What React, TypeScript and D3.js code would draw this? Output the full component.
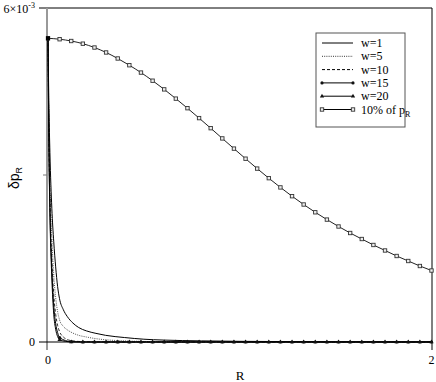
import React from 'react';
import * as d3 from 'd3';

// ---- data ----
const xDomain = [0, 2];
const yDomain = [0, 6e-3];

// fine R grid for the smooth decay curves
const fineR = [0, 0.005, 0.01, 0.02, 0.03, 0.04, 0.05, 0.06, 0.08, 0.1, 0.13, 0.16, 0.2, 0.25, 0.3, 0.4, 0.5, 0.6, 0.8, 1.0, 1.5, 2.0];
const w1 = [5.45, 4.2, 3.4, 2.4, 1.8, 1.35, 1.0, 0.78, 0.58, 0.46, 0.34, 0.26, 0.2, 0.155, 0.12, 0.08, 0.05, 0.035, 0.02, 0.012, 0.005, 0.002];
const w5 = [5.45, 3.8, 2.9, 1.9, 1.2, 0.8, 0.55, 0.4, 0.28, 0.22, 0.16, 0.12, 0.09, 0.06, 0.04, 0.02, 0.01, 0.005, 0.002, 0.001, 0, 0];
const w10 = [5.45, 3.6, 2.6, 1.5, 0.85, 0.5, 0.3, 0.19, 0.09, 0.045, 0.02, 0.01, 0.005, 0.002, 0.001, 0, 0, 0, 0, 0, 0, 0];

// coarse R grid (marker positions)
const markR = [0, 0.0606, 0.1212, 0.1818, 0.2424, 0.3030, 0.3636, 0.4242, 0.4848, 0.5455, 0.6061, 0.6667, 0.7273, 0.7879, 0.8485, 0.9091, 0.9697, 1.0303, 1.0909, 1.1515, 1.2121, 1.2727, 1.3333, 1.3939, 1.4545, 1.5152, 1.5758, 1.6364, 1.6970, 1.7576, 1.8182, 1.8788, 1.9394, 2.0];
// extra unmarked points near R=0 for w=15 and w=20
const extraR = [0.005, 0.01, 0.02, 0.03, 0.04, 0.05];
const w15Extra = [3.5, 2.4, 1.3, 0.65, 0.33, 0.17];
const w20Extra = [3.4, 2.3, 1.15, 0.5, 0.23, 0.1];
const w15 = [5.45, 0.08, 0.005, 0, 0, 0, 0, 0, 0, 0, 0, 0, 0, 0, 0, 0, 0, 0, 0, 0, 0, 0, 0, 0, 0, 0, 0, 0, 0, 0, 0, 0, 0, 0];
const w20 = [5.45, 0.04, 0.002, 0, 0, 0, 0, 0, 0, 0, 0, 0, 0, 0, 0, 0, 0, 0, 0, 0, 0, 0, 0, 0, 0, 0, 0, 0, 0, 0, 0, 0, 0, 0];
const pR10 = [5.456, 5.439, 5.407, 5.359, 5.29, 5.201, 5.093, 4.972, 4.84, 4.694, 4.538, 4.372, 4.2, 4.022, 3.841, 3.657, 3.474, 3.293, 3.115, 2.943, 2.777, 2.619, 2.47, 2.33, 2.199, 2.075, 1.958, 1.85, 1.743, 1.644, 1.545, 1.455, 1.365, 1.284];

const legendLabels = ['w=1', 'w=5', 'w=10', 'w=15', 'w=20', '10% of p'];

const W = 436, H = 382;
const serif = "Liberation Serif, Times New Roman, serif";
const sans = "Liberation Sans, Arial, sans-serif";

type P = [number, number];

export default function App() {
  const x = d3.scaleLinear().domain(xDomain).range([48, 431.5]);
  const y = d3.scaleLinear().domain(yDomain).range([342, 8]);
  const line = d3.line<P>().x(d => x(d[0])).y(d => y(d[1] * 1e-3)).curve(d3.curveMonotoneX);

  const fine = (vals: number[]): P[] => fineR.map((r, i) => [r, vals[i]]);
  const marked = (vals: number[]): P[] => markR.map((r, i) => [r, vals[i]]);
  const merged = (vals: number[], extra: number[]): P[] =>
    [...marked(vals), ...extraR.map((r, i) => [r, extra[i]] as P)].sort((a, b) => a[0] - b[0]);

  const tri = d3.symbol().type(d3.symbolTriangle).size(8)() as string;

  const lg = { x0: 322, x1: 353, tx: 361, y0: 43, dy: 13.3 };

  const markerDot = (cx: number, cy: number, k: string) => <circle key={k} cx={cx} cy={cy} r={1.6} fill="#111" />;
  const markerTri = (cx: number, cy: number, k: string) => <path key={k} d={tri} transform={`translate(${cx},${cy})`} fill="#111" />;
  const markerSq = (cx: number, cy: number, k: string) => <rect key={k} x={cx - 1.7} y={cy - 1.7} width={3.4} height={3.4} fill="#eee" stroke="#333" strokeWidth={0.9} />;

  return (
    <svg width={W} height={H} style={{ position: 'absolute', left: 0, top: 0, background: 'white' }}>
      {/* frame */}
      <line x1={39} x2={432} y1={8} y2={8} stroke="#000" strokeWidth={1} />
      <line x1={432} x2={432} y1={8} y2={350} stroke="#000" strokeWidth={1} />
      <line x1={47} x2={47} y1={8} y2={350} stroke="#999" strokeWidth={2} />
      <line x1={43} x2={47} y1={y(3e-3)} y2={y(3e-3)} stroke="#777" strokeWidth={1} />
      <line x1={39} x2={432} y1={342} y2={342} stroke="#000" strokeWidth={1.2} />

      {/* tick labels */}
      <text x={35} y={13} fontFamily={serif} fontSize={12} textAnchor="end">6×10<tspan dy={-5} fontSize={8}>-3</tspan></text>
      <text x={35} y={346} fontFamily={serif} fontSize={12} textAnchor="end">0</text>
      <text x={x(0)} y={364} fontFamily={serif} fontSize={12} textAnchor="middle">0</text>
      <text x={x(2)} y={364} fontFamily={serif} fontSize={12} textAnchor="middle">2</text>
      <text x={240} y={380} fontFamily={serif} fontSize={13} textAnchor="middle">R</text>
      <text transform="translate(19,178) rotate(-90)" fontFamily={sans} fontSize={14} textAnchor="middle">δp<tspan dy={3} fontSize={9}>R</tspan></text>

      {/* curves */}
      <path d={line(fine(w1))!} fill="none" stroke="#000" strokeWidth={1} />
      <path d={line(fine(w5))!} fill="none" stroke="#222" strokeWidth={0.8} strokeDasharray="1,1.2" />
      <path d={line(fine(w10))!} fill="none" stroke="#111" strokeWidth={0.9} strokeDasharray="3,2" />
      <path d={line(merged(w15, w15Extra))!} fill="none" stroke="#000" strokeWidth={1} />
      <path d={line(merged(w20, w20Extra))!} fill="none" stroke="#000" strokeWidth={1} />
      <path d={line(marked(pR10))!} fill="none" stroke="#222" strokeWidth={1} />

      {marked(w15).map((d, i) => markerDot(x(d[0]), y(d[1] * 1e-3), 'a' + i))}
      {marked(w20).map((d, i) => markerTri(x(d[0]), y(d[1] * 1e-3), 'b' + i))}
      {marked(pR10).map((d, i) => markerSq(x(d[0]), y(d[1] * 1e-3), 'c' + i))}
      <rect x={x(0) - 2} y={y(pR10[0] * 1e-3) - 2} width={4} height={4} fill="#000" />

      {/* legend */}
      <rect x={316} y={33} width={89} height={94} fill="white" stroke="#555" strokeWidth={1} />
      {legendLabels.map((lab, i) => {
        const ly = lg.y0 + i * lg.dy;
        const dash = i === 1 ? '1,1.2' : i === 2 ? '3,2' : undefined;
        return (
          <g key={lab}>
            <line x1={lg.x0} x2={lg.x1} y1={ly} y2={ly} stroke="#000" strokeWidth={i === 1 ? 0.8 : 1} strokeDasharray={dash} />
            {i === 3 && [markerDot(lg.x0, ly, 'l1'), markerDot(lg.x1, ly, 'l2')]}
            {i === 4 && [markerTri(lg.x0, ly, 'l1'), markerTri(lg.x1, ly, 'l2')]}
            {i === 5 && [markerSq(lg.x0, ly, 'l1'), markerSq(lg.x1, ly, 'l2')]}
            <text x={lg.tx} y={ly + 4} fontFamily={serif} fontSize={12}>
              {lab}{i === 5 && <tspan dy={3} fontSize={8}>R</tspan>}
            </text>
          </g>
        );
      })}
    </svg>
  );
}
